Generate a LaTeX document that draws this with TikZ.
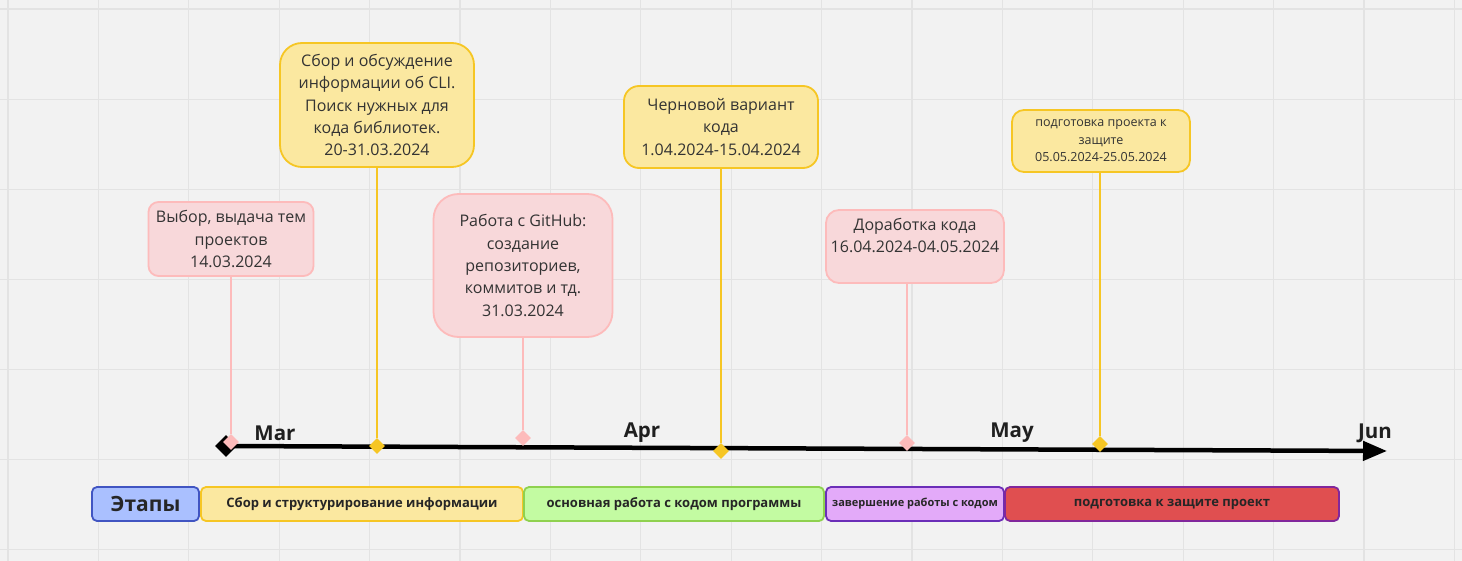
\documentclass[tikz,border=0pt]{standalone}
\usepackage{fontspec}
\setmainfont{Open Sans}
\usepackage{tikz}
\usetikzlibrary{arrows.meta,shapes.geometric}
\definecolor{boardbg}{HTML}{F2F2F2}
\definecolor{gridgray}{HTML}{E3E3E3}
\definecolor{textgray}{HTML}{333333}
\definecolor{pinkfill}{HTML}{F8D8DA}
\definecolor{pinkedge}{HTML}{FDBBBB}
\definecolor{yellowfill}{HTML}{FBE8A0}
\definecolor{yellowedge}{HTML}{F6C624}
\definecolor{bluefill}{HTML}{AAC0FF}
\definecolor{blueedge}{HTML}{4155C2}
\definecolor{greenfill}{HTML}{C3FBA2}
\definecolor{greenedge}{HTML}{8FD14F}
\definecolor{purplefill}{HTML}{E3AAF9}
\definecolor{purpleedge}{HTML}{6B2EB8}
\definecolor{redfill}{HTML}{E04F50}

\begin{document}
\begin{tikzpicture}[x=1pt, y=-1pt, >=Latex,
  every node/.style={align=center, text=textgray},
  pinkbox/.style={draw=pinkedge, fill=pinkfill, line width=1.8pt, inner sep=0pt, font=\fontsize{16}{22.4}\selectfont},
  yellowbox/.style={draw=yellowedge, fill=yellowfill, line width=1.8pt, inner sep=0pt, font=\fontsize{16}{22.4}\selectfont},
  phase/.style={line width=1.8pt, rounded corners=5pt, minimum height=34pt, inner sep=0pt, text=black!85, font=\fontsize{13}{16}\bfseries},
  month/.style={text=black!88, font=\fontsize{20.5}{24}\bfseries},
  tick/.style={diamond, inner sep=0pt, minimum size=16pt},
  stem/.style={line width=1.8pt}]
  % board and grid
  \fill[boardbg] (0,0) rectangle (1462,561);
  \useasboundingbox (0,0) rectangle (1462,561);
  \foreach \gx in {0,...,16}
    \draw[gridgray, line width=1.2pt] ({8+90.4*\gx},0) -- ({8+90.4*\gx},561);
  \foreach \gy in {0,...,6}
    \draw[gridgray, line width=1.2pt] (0,{9.1+90.1*\gy}) -- (1462,{9.1+90.1*\gy});

  % time axis
  \node[tick, fill=black, minimum size=22pt] (start) at (226,446) {};
  \coordinate (end) at (1387,451);
  \draw[line width=4.5pt, -{Triangle[length=24pt, width=19pt]}] (start.center) -- (end);
  \node[month] (mar) at (275,433) {Mar};
  \node[month] (apr) at (642,433) {Apr};
  \node[month] (may) at (1012,433) {May};
  \node[month] (jun) at (1375,433) {Jun};

  % events
  \node[pinkbox, rounded corners=10pt, minimum width=165pt, minimum height=74pt] (choice) at (231,239) {Выбор, выдача тем\\проектов\\14.03.2024};
  \node[yellowbox, rounded corners=22pt, minimum width=194pt, minimum height=124pt] (cli) at (377,105) {Сбор и обсуждение\\информации об CLI.\\Поиск нужных для\\кода библиотек.\\20-31.03.2024};
  \node[pinkbox, rounded corners=25pt, minimum width=179pt, minimum height=143pt] (github) at (523,265.5) {Работа с GitHub:\\создание\\репозиториев,\\коммитов и тд.\\31.03.2024};
  \node[yellowbox, rounded corners=15pt, minimum width=194pt, minimum height=82pt] (draft) at (721,127) {Черновой вариант\\кода\\1.04.2024-15.04.2024};
  \node[pinkbox, rounded corners=13pt, minimum width=178pt, minimum height=73pt] (rework) at (915,246.5) {Доработка кода\\16.04.2024-04.05.2024\\~};
  \node[yellowbox, rounded corners=12pt, minimum width=178pt, minimum height=62pt, font=\fontsize{12.5}{17.5}\selectfont] (defense) at (1101,141) {подготовка проекта к\\защите\\05.05.2024-25.05.2024};

  % ticks on the axis
  \node[tick, fill=pinkedge] (tchoice) at (231,442) {};
  \node[tick, fill=yellowedge] (tcli) at (377,446) {};
  \node[tick, fill=pinkedge] (tgithub) at (523,438) {};
  \node[tick, fill=yellowedge] (tdraft) at (721,451) {};
  \node[tick, fill=pinkedge] (trework) at (907,443) {};
  \node[tick, fill=yellowedge] (tdefense) at (1100,444) {};
  \draw[stem, pinkedge] (choice.south) -- (tchoice);
  \draw[stem, yellowedge] (cli.south) -- (tcli);
  \draw[stem, pinkedge] (github.south) -- (tgithub);
  \draw[stem, yellowedge] (draft.south) -- (tdraft);
  \draw[stem, pinkedge] (rework.south -| trework) -- (trework);
  \draw[stem, yellowedge] (defense.south -| tdefense) -- (tdefense);

  % phases
  \node[phase, draw=blueedge, fill=bluefill, minimum width=107pt, font=\fontsize{21}{24}\bfseries] (stages) at (145.5,504) {Этапы};
  \node[phase, draw=yellowedge, fill=yellowfill, minimum width=322pt] (collect) at (362,504) {Сбор и структурирование информации};
  \node[phase, draw=greenedge, fill=greenfill, minimum width=300pt] (coding) at (674,504) {основная работа с кодом программы};
  \node[phase, draw=purpleedge, fill=purplefill, minimum width=178pt, font=\fontsize{11}{14}\bfseries] (finish) at (915,504) {завершение работы с кодом};
  \node[phase, draw=purpleedge!85!red, fill=redfill, minimum width=334pt] (prepare) at (1172,504) {подготовка к защите проект};
\end{tikzpicture}
\end{document}
